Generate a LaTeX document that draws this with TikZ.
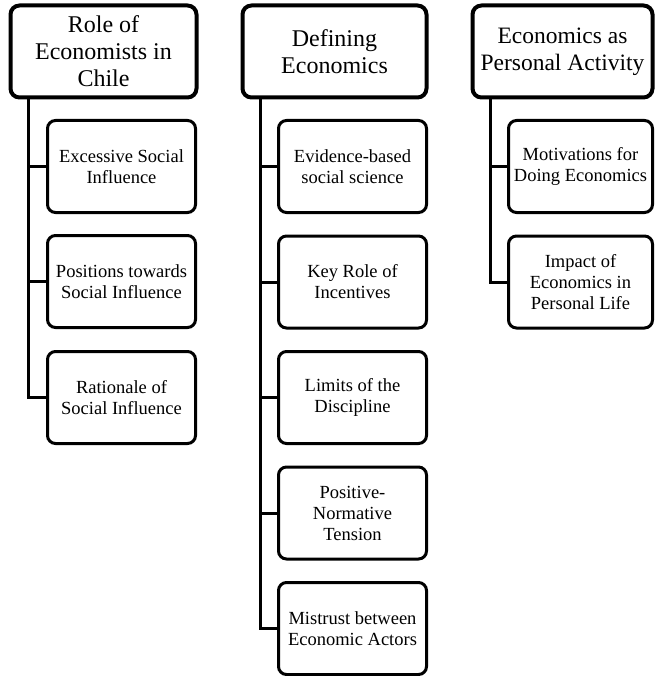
\documentclass[tikz,border=0pt]{standalone}
\usepackage{fontspec}
\setmainfont{Liberation Serif}
\begin{document}
\begin{tikzpicture}[x=1pt,y=-1pt,
  head/.style={draw=black,line width=4pt,rounded corners=9pt,fill=white,align=center,
    font=\rmfamily\fontsize{24}{27}\selectfont,minimum height=92pt,inner sep=0pt},
  sub/.style={draw=black,line width=3pt,rounded corners=8pt,fill=white,align=center,
    font=\rmfamily\fontsize{18.5}{21}\selectfont,minimum height=92pt,inner sep=0pt},
  conn/.style={line width=3pt,line join=miter}]
\useasboundingbox (0,0) rectangle (654,676);
% column 1
\node[head,minimum width=186pt] (h1) at (103.5,51.5) {Role of\\Economists in\\Chile};
\node[sub,minimum width=148pt] (c11) at (121.5,166.5) {Excessive Social\\Influence};
\node[sub,minimum width=148pt] (c12) at (121.5,281.5) {Positions towards\\Social Influence};
\node[sub,minimum width=148pt] (c13) at (121.5,397.5) {Rationale of\\Social Influence};
% column 2
\node[head,minimum width=184pt] (h2) at (334.5,51.5) {Defining\\Economics};
\node[sub,minimum width=148pt] (c21) at (352.5,166.5) {Evidence-based\\social science};
\node[sub,minimum width=148pt] (c22) at (352.5,282) {Key Role of\\Incentives};
\node[sub,minimum width=148pt] (c23) at (352.5,397.5) {Limits of the\\Discipline};
\node[sub,minimum width=148pt] (c24) at (352.5,513) {Positive-\\Normative\\Tension};
\node[sub,minimum width=148pt] (c25) at (352.5,628.5) {Mistrust between\\Economic Actors};
% column 3
\node[head,minimum width=180pt,font=\rmfamily\fontsize{23.5}{27}\selectfont] (h3) at (562.5,51.5) {Economics as\\Personal Activity};
\node[sub,minimum width=144pt] (c31) at (580.5,166.5) {Motivations for\\Doing Economics};
\node[sub,minimum width=144pt] (c32) at (580.5,282) {Impact of\\Economics in\\Personal Life};
% connectors
\draw[conn] ([xshift=20pt]h1.south west) |- (c13.west);
\draw[conn] ([xshift=20pt]h1.south west |- c11.west) -- (c11.west);
\draw[conn] ([xshift=20pt]h1.south west |- c12.west) -- (c12.west);
\draw[conn] ([xshift=20pt]h2.south west) |- (c25.west);
\draw[conn] ([xshift=20pt]h2.south west |- c21.west) -- (c21.west);
\draw[conn] ([xshift=20pt]h2.south west |- c22.west) -- (c22.west);
\draw[conn] ([xshift=20pt]h2.south west |- c23.west) -- (c23.west);
\draw[conn] ([xshift=20pt]h2.south west |- c24.west) -- (c24.west);
\draw[conn] ([xshift=20pt]h3.south west) |- (c32.west);
\draw[conn] ([xshift=20pt]h3.south west |- c31.west) -- (c31.west);
\end{tikzpicture}
\end{document}
